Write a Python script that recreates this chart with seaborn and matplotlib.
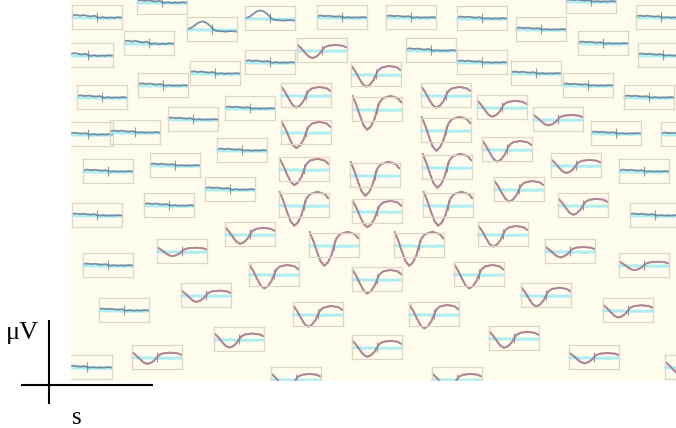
import numpy as np
import pandas as pd
import matplotlib
matplotlib.use("Agg")
import matplotlib.pyplot as plt
from matplotlib.patches import Rectangle
import seaborn as sns

sns.set_theme(style="white")
plt.rcParams["font.family"] = ["Liberation Serif", "DejaVu Serif"]

# ---------------- data -----------------
times = [-0.2, -0.17, -0.14, -0.11, -0.08, -0.05, -0.02, 0.0, 0.02, 0.05,
         0.08, 0.11, 0.14, 0.17, 0.2]
wave_flat = [0.15, 0.2, 0.12, 0.18, 0.1, 0.05, 0.12, 0.0, -0.08, -0.02,
             -0.1, -0.04, -0.08, -0.02, -0.06]
wave_dip = [0.6, 0.2, -0.3, -0.75, -0.95, -0.8, -0.45, -0.05, 0.3, 0.5,
            0.55, 0.6, 0.55, 0.5, 0.3]
wave_bump = [0.0, 0.1, 0.35, 0.6, 0.7, 0.6, 0.35, 0.1, -0.1, -0.2,
             -0.2, -0.25, -0.2, -0.2, -0.25]
wave_cyan = [-0.05, -0.08, -0.05, -0.1, -0.06, -0.08, -0.1, -0.08, -0.12,
             -0.1, -0.08, -0.12, -0.1, -0.08, -0.1]

# per channel: waveform kind and gain (µV scale)
wave_kind = (["flat"] * 4 + ["bump"] + ["flat"] * 9
             + ["bump", "flat", "dip", "flat", "dip", "dip", "flat", "dip",
                "dip", "flat", "dip", "dip"]
             + ["flat"] * 6 + ["dip"] * 6
             + ["flat"] * 6 + ["dip", "flat", "flat", "dip", "flat"]
             + ["flat", "flat", "dip", "flat", "dip", "flat", "dip", "dip", "flat"]
             + ["dip"] * 9
             + ["dip"] * 8
             + ["dip", "flat", "dip", "dip", "dip", "dip", "dip"])
wave_gain = ([0.9, 0.8, 1.0, 0.9, 0.9, 0.7, 0.7, 0.7, 0.6, 0.6, 0.6, 0.6, 0.6, 0.7,
              0.9, 0.6, 0.7, 0.7, 1.1, 1.1, 0.6, 1.8, 1.4, 0.6, 1.4, 1.8]
             + [0.6, 0.6, 0.6, 0.7, 0.6, 0.6, 1.1, 0.85, 1.8, 1.1, 1.8, 1.1]
             + [0.6, 0.6, 0.6, 0.6, 0.6, 0.6, 0.55, 0.6, 0.6, 0.7, 0.6]
             + [0.6, 0.7, 0.45, 0.6, 0.6, 0.6, 0.75, 0.6, 0.6]
             + [1.8, 1.4, 0.85, 1.8, 1.25, 1.25, 1.1, 0.85, 0.7]
             + [1.8, 1.1, 1.8, 1.25, 1.0, 1.25, 0.85, 0.7]
             + [0.85, 0.6, 0.55, 0.45, 0.65, 0.55, 0.65])

# sensor layout (box top-left, pixels)
layout = [(72, 5), (137, -10), (124, 31), (63, 43), (187, 17), (138, 73),
          (190, 61), (77, 85), (168, 107), (63, 122), (110, 120), (83, 159),
          (150, 153), (205, 177),
          (245, 6), (317, 5), (297, 38), (245, 50), (351, 62), (281, 83),
          (225, 96), (352, 97), (281, 120), (217, 138), (279, 157), (350, 163),
          (386, 5), (457, 6), (516, 17), (406, 38), (457, 50), (511, 61),
          (421, 83), (477, 95), (421, 118), (482, 137), (422, 155), (494, 177),
          (566, -11), (636, 5), (578, 31), (638, 43), (563, 73), (624, 85),
          (533, 107), (591, 121), (661, 122), (551, 153), (619, 159),
          (72, 203), (144, 193), (157, 239), (83, 253), (181, 283), (99, 298),
          (214, 327), (132, 345), (62, 355),
          (279, 193), (352, 199), (225, 222), (309, 233), (249, 262),
          (352, 267), (293, 302), (352, 335), (271, 367),
          (423, 193), (478, 222), (394, 233), (454, 262), (521, 283),
          (409, 302), (489, 326), (432, 367),
          (558, 193), (630, 203), (545, 239), (619, 253), (603, 298),
          (569, 345), (665, 355)]

W, H = 676, 428
BW, BH = 50, 24
cream = "#fffcee"
box_edge = "#ddd5c6"
blue = "#627d99"
red = "#c7798a"
cyan = "#a6ecf2"

templates = {"flat": wave_flat, "dip": wave_dip, "bump": wave_bump}

fig = plt.figure(figsize=(W / 100, H / 100), dpi=100)
fig.patch.set_facecolor("white")

bg = fig.add_axes([70 / W, (H - 381) / H, (W - 70) / W, 381 / H])
bg.set_facecolor(cream)
bg.set_xticks([]); bg.set_yticks([])
for s in bg.spines.values():
    s.set_visible(False)

n = min(len(layout), len(wave_kind), len(wave_gain))
for i in range(n):
    left, top = layout[i]
    ax = fig.add_axes([left / W, 1 - (top + BH) / H, BW / W, BH / H])
    ax.set_facecolor("none")
    kind = wave_kind[i]
    g = wave_gain[i]
    df = pd.DataFrame({"t": times,
                       "v": np.array(templates[kind]) * g,
                       "c": wave_cyan})
    sns.lineplot(data=df, x="t", y="c", ax=ax, color=cyan, lw=2.2, alpha=0.9)
    ax.vlines(0, -0.45, 0.45, color="#8c9aa6", lw=0.8)
    if kind == "dip":
        sns.lineplot(data=df, x="t", y="v", ax=ax, color=blue, lw=1.3, alpha=0.8)
        sns.lineplot(x=df["t"], y=df["v"] * 1.03, ax=ax, color=red, lw=1.3, alpha=0.75)
    else:
        sns.lineplot(data=df, x="t", y="v", ax=ax, color=blue, lw=1.3, alpha=0.85)
    for ln in ax.lines:
        ln.set_clip_on(False)
    ax.set_xlim(-0.205, 0.205)
    ax.set_ylim(-1.0, 1.0)
    ax.set_xticks([]); ax.set_yticks([])
    ax.set_xlabel(""); ax.set_ylabel("")
    for s in ax.spines.values():
        s.set_color(box_edge)
        s.set_linewidth(0.9)

# mask outside image area
fig.patches.append(Rectangle((0, 0), 70 / W, 1, transform=fig.transFigure,
                             color="white", zorder=10))
fig.patches.append(Rectangle((0, 0), 1, (H - 381) / H, transform=fig.transFigure,
                             color="white", zorder=10))

# scale cross
leg = fig.add_axes([0, 0, 160 / W, 110 / H])
leg.set_zorder(11)
leg.set_facecolor("none")
leg.set_xlim(0, 160)
leg.set_ylim(428, 318)
leg.axis("off")
leg.vlines(49, 320, 404, color="black", lw=1.5)
leg.hlines(385, 21, 153, color="black", lw=1.5)
leg.text(6, 333, "μV", fontsize=19, va="center", ha="left", color="black")
leg.text(72, 418, "s", fontsize=18, va="center", ha="left", color="black")

fig.savefig("out.png", dpi=100, facecolor="white")
